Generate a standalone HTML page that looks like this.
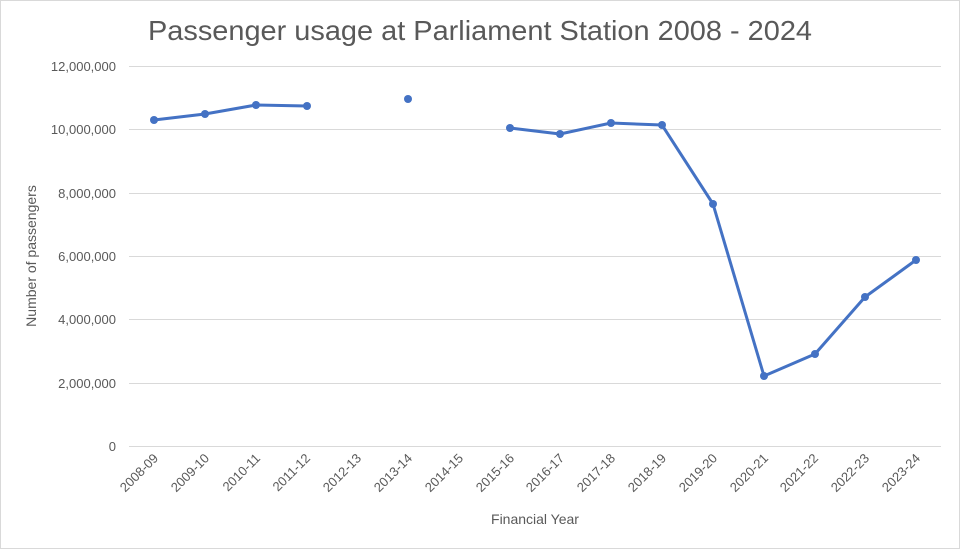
<!DOCTYPE html>
<html><head><style>html,body{margin:0;padding:0;background:#fff}svg{display:block}</style></head>
<body>
<svg width="960" height="549" xmlns="http://www.w3.org/2000/svg" font-family="Liberation Sans, sans-serif">
<rect x="0.5" y="0.5" width="959" height="548" fill="#fff" stroke="#d9d9d9"/>
<text x="148" y="40" font-size="28" fill="#595959" textLength="664" lengthAdjust="spacingAndGlyphs">Passenger usage at Parliament Station 2008 - 2024</text>
<g stroke="#d9d9d9" stroke-width="1">
<line x1="129" x2="941" y1="66.5" y2="66.5"/>
<line x1="129" x2="941" y1="129.5" y2="129.5"/>
<line x1="129" x2="941" y1="193.5" y2="193.5"/>
<line x1="129" x2="941" y1="256.5" y2="256.5"/>
<line x1="129" x2="941" y1="319.5" y2="319.5"/>
<line x1="129" x2="941" y1="383.5" y2="383.5"/>
<line x1="129" x2="941" y1="446.5" y2="446.5"/>
</g>
<g font-size="13" fill="#595959" text-anchor="end">
<text x="116" y="71">12,000,000</text>
<text x="116" y="134">10,000,000</text>
<text x="116" y="198">8,000,000</text>
<text x="116" y="261">6,000,000</text>
<text x="116" y="324">4,000,000</text>
<text x="116" y="388">2,000,000</text>
<text x="116" y="451">0</text>
</g>
<text transform="translate(36,256) rotate(-90)" font-size="14" fill="#595959" text-anchor="middle">Number of passengers</text>
<text x="535" y="524" font-size="14" fill="#595959" text-anchor="middle">Financial Year</text>
<g font-size="13" fill="#595959" text-anchor="end">
<text transform="translate(159,459) rotate(-45)">2008-09</text>
<text transform="translate(210,459) rotate(-45)">2009-10</text>
<text transform="translate(261,459) rotate(-45)">2010-11</text>
<text transform="translate(311,459) rotate(-45)">2011-12</text>
<text transform="translate(362,459) rotate(-45)">2012-13</text>
<text transform="translate(413,459) rotate(-45)">2013-14</text>
<text transform="translate(464,459) rotate(-45)">2014-15</text>
<text transform="translate(515,459) rotate(-45)">2015-16</text>
<text transform="translate(565,459) rotate(-45)">2016-17</text>
<text transform="translate(616,459) rotate(-45)">2017-18</text>
<text transform="translate(667,459) rotate(-45)">2018-19</text>
<text transform="translate(718,459) rotate(-45)">2019-20</text>
<text transform="translate(769,459) rotate(-45)">2020-21</text>
<text transform="translate(819,459) rotate(-45)">2021-22</text>
<text transform="translate(870,459) rotate(-45)">2022-23</text>
<text transform="translate(921,459) rotate(-45)">2023-24</text>
</g>
<g stroke="#4472c4" stroke-width="3" fill="none" stroke-linejoin="round">
<polyline points="154,120 205,114 256,105 307,106"/>
<polyline points="510,128 560,134 611,123 662,125 713,204 764,376 815,354 865,297 916,260"/>
</g>
<g fill="#4472c4">
<circle cx="154" cy="120" r="4"/><circle cx="205" cy="114" r="4"/><circle cx="256" cy="105" r="4"/><circle cx="307" cy="106" r="4"/>
<circle cx="408" cy="99" r="4"/>
<circle cx="510" cy="128" r="4"/><circle cx="560" cy="134" r="4"/><circle cx="611" cy="123" r="4"/><circle cx="662" cy="125" r="4"/>
<circle cx="713" cy="204" r="4"/><circle cx="764" cy="376" r="4"/><circle cx="815" cy="354" r="4"/><circle cx="865" cy="297" r="4"/><circle cx="916" cy="260" r="4"/>
</g>
</svg>
</body></html>
